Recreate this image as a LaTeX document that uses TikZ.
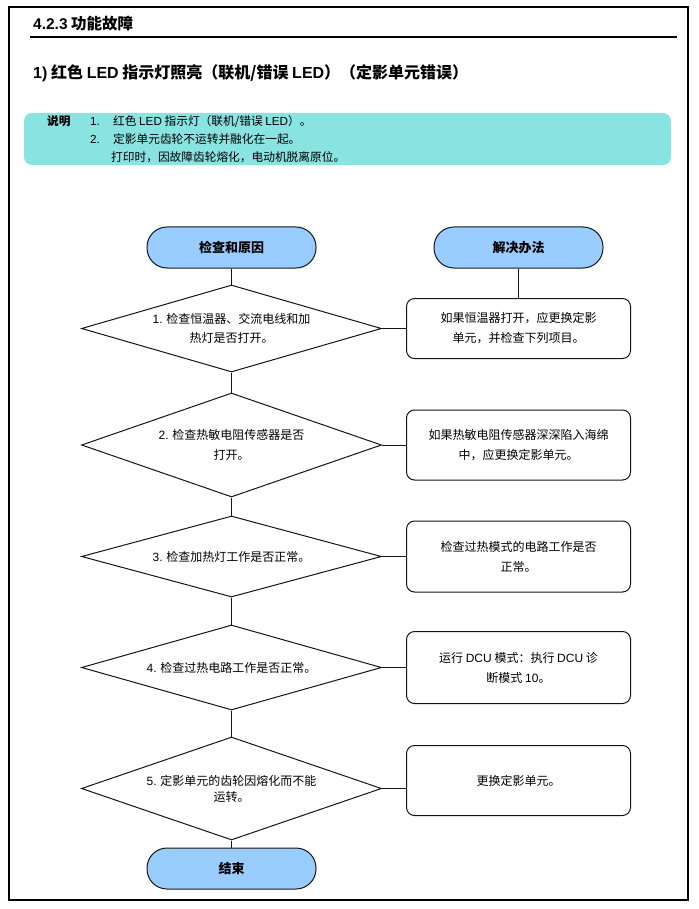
\documentclass[tikz,border=0pt]{standalone}
\usepackage{fontspec}
\setmainfont{Noto Sans CJK SC}
\newfontfamily\enfont{Liberation Sans}
\usetikzlibrary{positioning, shapes.geometric}
\definecolor{TermBlue}{RGB}{153,204,255}
\definecolor{NoteTeal}{RGB}{137,227,225}
\definecolor{LineGray}{RGB}{20,20,20}

\begin{document}
\begin{tikzpicture}[x=1pt, y=-1pt]

\tikzset{
term/.style={
draw=LineGray,
line width=1pt,
fill=TermBlue,
rounded corners=20pt,
minimum width=169pt,
minimum height=41pt,
inner sep=0pt,
font=\fontsize{13}{15}\selectfont\bfseries
},
check/.style args={#1}{
draw=LineGray,
line width=1pt,
diamond,
shape aspect=3.4,
minimum width=300pt,
minimum height=#1,
inner sep=0pt,
align=center,
font=\fontsize{12}{19.5}\selectfont
},
fix/.style args={#1}{
draw=LineGray,
line width=1pt,
rounded corners=8pt,
minimum width=224pt,
minimum height=#1,
align=center,
font=\fontsize{12}{20}\selectfont
},
link/.style={draw=LineGray, line width=1pt}
}

\useasboundingbox (0,0) rectangle (698,909);
\draw[line width=1.5pt] (9,7) rectangle (688,900);

% heading
\node[anchor=west, inner sep=0pt, font=\fontsize{15.5}{17}\selectfont\bfseries] (sec)
at (33,24) {{\enfont 4.2.3} 功能故障};
\draw[line width=2pt] (30,37) -- (677,37);
\node[anchor=west, inner sep=0pt, font=\fontsize{16}{18}\selectfont\bfseries] (title)
at (33,73) {{\enfont 1)} 红色 {\enfont LED} 指示灯照亮（联机/错误 {\enfont LED}）（定影单元错误）};

% note
\fill[NoteTeal, rounded corners=8pt] (24,113) rectangle (671,165);
\node[anchor=west, inner sep=0pt, font=\fontsize{11.7}{18}\selectfont] (note) at (47,139.5)
{\begin{tabular}{@{}p{43pt}@{}p{23pt}@{}l@{}}
\textbf{说明} & {\enfont 1.} & 红色 {\enfont LED} 指示灯（联机/错误 {\enfont LED}）。\\
 & {\enfont 2.} & 定影单元齿轮不运转并融化在一起。\\
 & \multicolumn{2}{@{\hspace{21pt}}l@{}}{打印时，因故障齿轮熔化，电动机脱离原位。}
\end{tabular}};

% flow
\node[term] (start) at (231.5,247.5) {检查和原因};
\node[term, right=117pt of start] (sol) {解决办法};

\node[check=87pt, below=16pt of start] (d1)
{{\enfont 1.} 检查恒温器、交流电线和加\\热灯是否打开。};
\node[check=104pt, below=20pt of d1] (d2)
{{\enfont 2.} 检查热敏电阻传感器是否\\打开。};
\node[check=81pt, below=18pt of d2] (d3)
{{\enfont 3.} 检查加热灯工作是否正常。};
\node[check=85pt, below=27pt of d3] (d4)
{{\enfont 4.} 检查过热电路工作是否正常。};
\node[check=103pt, below=26pt of d4, font=\fontsize{12}{16}\selectfont] (d5)
{{\enfont 5.} 定影单元的齿轮因熔化而不能\\运转。};
\node[term, below=7pt of d5] (stop) {结束};

\node[fix=60pt, right=24pt of d1] (f1)
{如果恒温器打开，应更换定影\\单元，并检查下列项目。};
\node[fix=70pt, right=24pt of d2] (f2)
{如果热敏电阻传感器深深陷入海绵\\中，应更换定影单元。};
\node[fix=71pt, right=24pt of d3] (f3)
{检查过热模式的电路工作是否\\正常。};
\node[fix=72pt, right=24pt of d4] (f4)
{运行 {\enfont DCU} 模式：执行 {\enfont DCU} 诊\\断模式 {\enfont 10}。};
\node[fix=70pt, right=24pt of d5, yshift=8pt] (f5)
{更换定影单元。};

\draw[link] (start) -- (d1);
\draw[link] (d1) -- (d2);
\draw[link] (d2) -- (d3);
\draw[link] (d3) -- (d4);
\draw[link] (d4) -- (d5);
\draw[link] (d5) -- (stop);
\draw[link] (sol.south) -- (sol.south |- f1.north);
\draw[link] (d1.east) -- (d1.east -| f1.west);
\draw[link] (d2.east) -- (d2.east -| f2.west);
\draw[link] (d3.east) -- (d3.east -| f3.west);
\draw[link] (d4.east) -- (d4.east -| f4.west);
\draw[link] (d5.east) -- (d5.east -| f5.west);

\end{tikzpicture}
\end{document}
